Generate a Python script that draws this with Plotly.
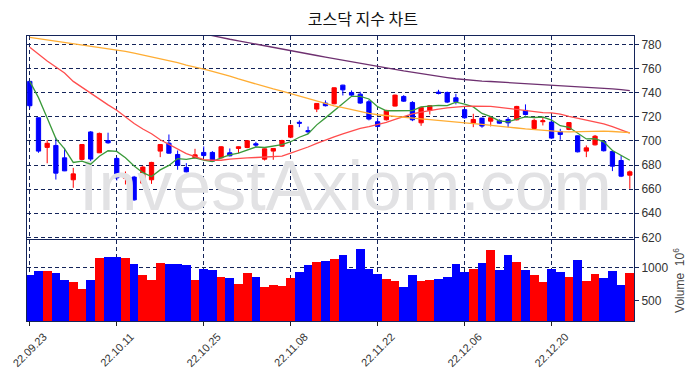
import plotly.graph_objects as go

dates = ["22.09.23","22.09.26","22.09.27","22.09.28","22.09.29","22.09.30","22.10.04","22.10.05","22.10.06","22.10.07",
         "22.10.11","22.10.12","22.10.13","22.10.14","22.10.17","22.10.18","22.10.19","22.10.20","22.10.21","22.10.24",
         "22.10.25","22.10.26","22.10.27","22.10.28","22.10.31","22.11.01","22.11.02","22.11.03","22.11.04","22.11.07",
         "22.11.08","22.11.09","22.11.10","22.11.11","22.11.14","22.11.15","22.11.16","22.11.17","22.11.18","22.11.21",
         "22.11.22","22.11.23","22.11.24","22.11.25","22.11.28","22.11.29","22.11.30","22.12.01","22.12.02","22.12.05",
         "22.12.06","22.12.07","22.12.08","22.12.09","22.12.12","22.12.13","22.12.14","22.12.15","22.12.16","22.12.19",
         "22.12.20","22.12.21","22.12.22","22.12.23","22.12.26","22.12.27","22.12.28","22.12.29","23.01.02","23.01.03"]

opens = [749.5, 719.3, 694.7, 696.3, 686.0, 667.8, 684.7, 707.5, 690.2, 700.4,
         685.5, 669.1, 670.0, 665.0, 667.8, 691.6, 698.2, 688.8, 678.0, 686.0,
         690.5, 690.5, 686.0, 690.2, 693.8, 694.6, 697.7, 684.9, 691.6, 695.7,
         703.2, 715.5, 708.6, 726.5, 731.5, 730.9, 746.4, 740.3, 738.9, 732.6,
         716.0, 717.6, 729.0, 737.0, 732.0, 715.1, 725.4, 740.6, 740.3, 735.9,
         726.0, 714.8, 719.0, 716.5, 717.1, 717.9, 717.6, 725.4, 710.4, 716.0,
         715.7, 707.9, 709.6, 704.3, 691.6, 696.8, 699.6, 691.3, 683.8, 671.6]
highs = [750.0, 719.5, 700.8, 702.7, 694.3, 677.7, 697.5, 708.2, 707.0, 706.9,
         686.6, 674.7, 671.0, 679.4, 682.7, 697.5, 705.4, 692.1, 681.6, 693.5,
         695.5, 691.6, 695.8, 693.8, 695.5, 700.5, 699.3, 693.8, 694.0, 701.0,
         713.4, 717.1, 712.0, 731.5, 733.7, 744.5, 746.7, 742.0, 740.9, 734.2,
         719.3, 725.9, 738.5, 738.1, 733.1, 728.4, 729.6, 742.5, 741.0, 739.2,
         726.7, 722.6, 719.3, 719.8, 718.0, 719.8, 729.2, 730.4, 718.5, 719.8,
         720.4, 710.1, 715.7, 704.5, 696.3, 705.0, 700.0, 692.0, 688.0, 675.5]
lows = [727.0, 690.2, 681.5, 668.0, 675.0, 661.1, 684.0, 682.4, 690.0, 697.7,
        667.2, 663.9, 650.5, 665.0, 664.4, 686.6, 689.4, 676.1, 674.0, 686.0,
        686.6, 682.7, 685.5, 687.2, 689.9, 694.0, 694.4, 683.8, 684.4, 695.0,
        702.4, 711.5, 706.0, 724.0, 728.7, 730.5, 737.8, 737.0, 730.9, 717.1,
        711.5, 717.0, 728.7, 732.5, 716.5, 712.6, 722.0, 738.7, 731.5, 730.4,
        718.5, 711.5, 711.0, 712.1, 714.3, 711.5, 717.0, 721.2, 709.3, 712.9,
        701.8, 701.0, 709.0, 690.5, 686.6, 696.3, 691.3, 675.0, 670.0, 660.3]
closes = [729.3, 691.6, 698.1, 673.3, 675.2, 672.7, 697.1, 685.0, 706.3, 698.5,
          669.4, 671.4, 651.1, 678.3, 682.2, 697.1, 689.9, 679.7, 674.4, 688.5,
          688.0, 683.3, 695.2, 687.7, 695.2, 700.2, 696.6, 693.5, 693.8, 700.4,
          712.9, 714.8, 707.7, 731.2, 729.3, 744.2, 742.5, 738.1, 731.5, 718.2,
          712.1, 725.4, 738.1, 733.1, 717.6, 727.9, 729.3, 739.5, 732.3, 732.6,
          719.3, 717.9, 712.4, 719.3, 714.8, 715.1, 728.7, 722.0, 717.1, 716.8,
          702.4, 705.4, 715.3, 691.0, 694.3, 704.0, 691.9, 679.1, 670.8, 674.4]

ma5 = [749.5, 736.0, 719.0, 702.0, 693.5, 682.2, 683.3, 680.7, 687.3, 691.9,
       691.3, 686.1, 679.3, 673.7, 670.5, 676.0, 679.7, 685.4, 684.7, 685.9,
       684.1, 682.8, 685.9, 688.5, 689.9, 692.3, 695.0, 694.6, 695.9, 696.9,
       699.4, 703.1, 705.9, 713.4, 719.2, 725.4, 731.0, 737.1, 737.1, 734.9,
       728.5, 725.1, 725.1, 725.4, 725.3, 728.4, 729.2, 729.5, 729.3, 732.3,
       730.6, 728.3, 722.9, 720.3, 716.7, 715.9, 718.1, 720.0, 719.5, 719.9,
       717.4, 712.7, 711.4, 706.2, 701.7, 702.0, 699.3, 692.1, 688.0, 684.0]
ma20 = [777.8, 772.0, 766.5, 761.5, 756.5, 749.5, 744.5, 739.5, 734.5, 730.0,
        725.5, 720.0, 714.5, 710.0, 706.0, 701.0, 697.0, 693.0, 689.5, 687.0,
        684.5, 684.0, 684.0, 685.0, 685.7, 686.0, 686.3, 686.6, 686.8, 687.5,
        690.0, 692.3, 695.0, 698.0, 701.0, 703.5, 706.0, 708.5, 710.5, 712.0,
        713.5, 715.5, 718.0, 720.5, 722.5, 724.0, 725.5, 726.5, 727.5, 728.3,
        728.8, 729.0, 729.0, 728.7, 728.0, 727.0, 726.0, 725.0, 724.0, 723.5,
        723.3, 722.3, 720.5, 719.0, 717.8, 716.2, 714.3, 712.0, 709.5, 706.5]
ma60 = [786.0, 785.0, 784.0, 783.0, 782.0, 781.0, 780.0, 779.0, 778.0, 777.0,
        776.0, 774.5, 773.0, 771.5, 770.0, 768.0, 766.5, 765.0, 763.0, 761.5,
        759.6, 757.8, 756.0, 753.8, 751.5, 749.3, 747.2, 745.0, 743.2, 741.5,
        739.5, 737.5, 735.5, 733.2, 731.0, 729.2, 727.7, 726.0, 724.5, 723.0,
        721.8, 721.0, 720.3, 719.6, 719.0, 718.4, 717.8, 717.0, 716.3, 715.6,
        715.0, 714.4, 713.8, 713.2, 712.4, 711.6, 710.8, 710.0, 709.3, 708.6,
        708.0, 707.7, 707.6, 707.8, 708.1, 708.3, 708.2, 707.9, 707.5, 707.0]
ma120 = [None] * 20 + [
        789.0, 787.3, 786.0, 784.5, 783.2, 781.8, 780.5, 779.0, 777.5, 776.0,
        774.7, 773.5, 772.2, 771.0, 769.7, 768.5, 767.0, 765.7, 764.5, 763.2,
        762.0, 760.8, 759.5, 758.2, 757.0, 755.7, 754.7, 753.7, 752.7, 751.7,
        750.9, 750.3, 749.8, 749.4, 749.0, 748.6, 748.2, 747.7, 747.3, 746.9,
        746.5, 746.2, 745.9, 745.5, 745.1, 744.6, 744.0, 743.3, 742.6, 741.8]
volume = [885, 945, 945, 915, 810, 780, 675, 810, 1140, 1155,
          1155, 1140, 1050, 885, 810, 1065, 1050, 1050, 1035, 810,
          975, 960, 855, 840, 750, 915, 855, 705, 735, 720,
          840, 930, 1035, 1080, 1095, 1125, 1185, 975, 1290, 975,
          900, 825, 795, 705, 885, 795, 810, 825, 855, 1050,
          930, 975, 1065, 1275, 960, 1185, 1080, 960, 885, 780,
          975, 930, 855, 1110, 795, 900, 840, 945, 735, 915]

price_ticks = [620, 640, 660, 680, 700, 720, 740, 760, 780]
volume_ticks = [500, 1000]
watermark = "InvestAxiom.com"

UP = "#FF0000"
DOWN = "#0000FF"
NAVY = "#14245a"
GRID = "#14245a"
TICKFONT = dict(family="Liberation Sans, Arial, sans-serif", size=12, color="#333333")

x = list(range(len(dates)))
tick_idx = x[::10]
tick_txt = [dates[i] for i in tick_idx]
vol_colors = [UP if c >= o else DOWN for o, c in zip(opens, closes)]

fig = go.Figure()

fig.add_trace(go.Scatter(
    x=[36.3], y=[657.5], mode="text", text=[watermark],
    textfont=dict(family="Liberation Sans, Arial, sans-serif", size=70, color="#e2e2e4"),
    hoverinfo="skip", showlegend=False, xaxis="x", yaxis="y"))

fig.add_trace(go.Candlestick(
    x=x, open=opens, high=highs, low=lows, close=closes,
    increasing=dict(line=dict(color=UP, width=1), fillcolor=UP),
    decreasing=dict(line=dict(color=DOWN, width=1), fillcolor=DOWN),
    whiskerwidth=0, showlegend=False, xaxis="x", yaxis="y"))

for vals, col in [(ma5, "#3a9a3a"), (ma20, "#ff4d4d"), (ma60, "#ffad33"), (ma120, "#6e3070")]:
    fig.add_trace(go.Scatter(x=x, y=vals, mode="lines", line=dict(color=col, width=1.3),
                             showlegend=False, hoverinfo="skip", xaxis="x", yaxis="y"))

fig.add_trace(go.Bar(x=x, y=volume, marker=dict(color=vol_colors, line=dict(width=0)),
                     showlegend=False, xaxis="x2", yaxis="y2"))

xr = [-0.32, 69.48]
axis_common = dict(showline=True, mirror=True, linecolor=NAVY, linewidth=1, automargin=False,
                   showgrid=True, gridcolor=GRID, gridwidth=1, griddash="4px,3px", zeroline=False)

fig.update_layout(
    width=700, height=380,
    margin=dict(l=19, r=74, t=28, b=67),
    paper_bgcolor="white", plot_bgcolor="white",
    bargap=0,
    title=dict(text="코스닥 지수 차트", x=0.507, xanchor="center", y=0.971, yanchor="middle",
               font=dict(family="Noto Sans CJK KR", size=16, color="#111111")),
    xaxis=dict(domain=[0, 1], anchor="y", range=xr, tickvals=tick_idx, ticktext=tick_txt,
               showticklabels=False, ticks="", rangeslider=dict(visible=False), **axis_common),
    yaxis=dict(domain=[0.2877, 1], anchor="x", side="right", range=[618.6, 787.2],
               tickvals=price_ticks, ticks="outside", ticklen=4, tickcolor=NAVY,
               tickfont=TICKFONT, **axis_common),
    xaxis2=dict(domain=[0, 1], anchor="y2", range=xr, tickvals=tick_idx, ticktext=tick_txt,
                tickangle=-45, ticks="outside", ticklen=4, tickcolor="#222222",
                ticklabeloverflow="allow", ticklabelshift=14,
                tickfont=dict(family="Liberation Sans, Arial, sans-serif", size=11, color="#333333"),
                **axis_common),
    yaxis2=dict(domain=[0, 0.284], anchor="x2", side="right", range=[190, 1420],
                tickvals=volume_ticks, ticks="outside", ticklen=4, tickcolor=NAVY,
                tickfont=TICKFONT,
                title=dict(text="Volume  10<sup>6</sup>", standoff=8,
                           font=dict(family="Liberation Sans, Arial, sans-serif", size=12, color="#444444")),
                **axis_common),
)

fig.write_html("out.html")
